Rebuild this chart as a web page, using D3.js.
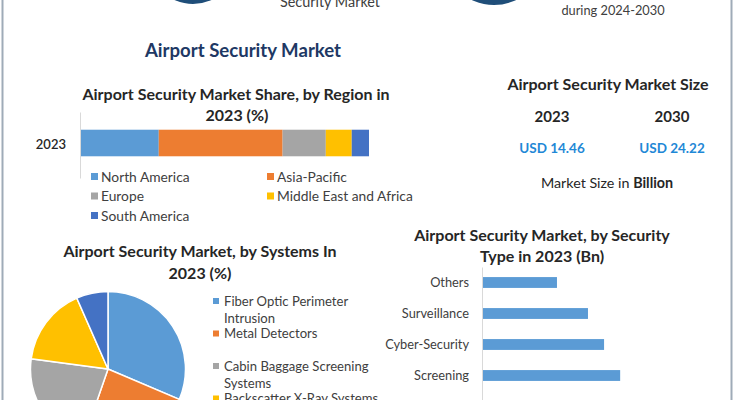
<!DOCTYPE html>
<html>
<head>
<meta charset="utf-8">
<script src="https://cdn.jsdelivr.net/npm/d3@7"></script>
<style>
  body { margin: 0; background: #fff; }
  svg { display: block; font-family: Lato, "Open Sans", sans-serif; }
</style>
</head>
<body>
<div id="container"></div>
<script>
/* DATA */
const regionYear = ["2023"];
const regions = ["North America", "Asia-Pacific", "Europe", "Middle East and Africa", "South America"];
const regionShare = [27, 43, 15, 9, 6];

const sizeYears = ["2023", "2030"];
const sizeValues = ["USD 14.46", "USD 24.22"];

const systems = ["Fiber Optic Perimeter Intrusion", "Metal Detectors", "Cabin Baggage Screening Systems", "Backscatter X-Ray Systems", "Others"];
const systemShare = [31.4, 23.9, 21.8, 16.3, 6.6];

const securityTypes = ["Others", "Surveillance", "Cyber-Security", "Screening", "Access Control"];
const securityValues = [1.91, 2.70, 3.11, 3.52, 3.21];

const palette = ["#5B9BD5", "#ED7D31", "#A5A5A5", "#FFC000", "#4472C4"];

/* SVG */
const width = 735, height = 400;
const svg = d3.select("#container").append("svg")
  .attr("width", width)
  .attr("height", height);

// frame lines left / right
svg.append("line").attr("x1", 2.5).attr("x2", 2.5).attr("y1", 0).attr("y2", height)
  .attr("stroke", "#9fabb8").attr("stroke-width", 2);
svg.append("line").attr("x1", 731.5).attr("x2", 731.5).attr("y1", 0).attr("y2", height)
  .attr("stroke", "#9fabb8").attr("stroke-width", 2);

// header decoration (cut off at top)
svg.append("circle").attr("cx", 193).attr("cy", -41).attr("r", 45).attr("fill", "#1f4e79");
svg.append("circle").attr("cx", 494).attr("cy", -47).attr("r", 52).attr("fill", "#1f4e79");
svg.append("text").attr("x", 330).attr("y", 7).attr("text-anchor", "middle")
  .attr("font-size", 14.4).attr("fill", "#404040").text("Security Market");
svg.append("text").attr("x", 613).attr("y", 15).attr("text-anchor", "middle")
  .attr("font-size", 12.8).attr("fill", "#404040").text("during 2024-2030");

svg.append("text").attr("x", 243).attr("y", 57).attr("text-anchor", "middle")
  .attr("font-size", 18.6).attr("font-weight", 700).attr("fill", "#203864")
  .text("Airport Security Market");

/* REGION STACKED BAR */
const g1 = svg.append("g");
g1.append("text").attr("x", 236).attr("y", 99.5).attr("text-anchor", "middle")
  .attr("font-size", 16).attr("font-weight", 700).attr("fill", "#262626")
  .text("Airport Security Market Share, by Region in");
g1.append("text").attr("x", 237).attr("y", 120.5).attr("text-anchor", "middle")
  .attr("font-size", 16).attr("font-weight", 700).attr("fill", "#262626")
  .text("2023 (%)");

const xReg = d3.scaleLinear().domain([0, 100]).range([81, 369]);
const yReg = d3.scaleBand().domain(regionYear).range([112, 174]).padding(0.4);

let acc = 0;
const stacked = regionShare.map((v, i) => { const s = { name: regions[i], x0: acc, x1: acc + v, i }; acc += v; return s; });

g1.selectAll("rect.seg").data(stacked).join("rect")
  .attr("class", "seg")
  .attr("x", d => xReg(d.x0))
  .attr("width", d => xReg(d.x1) - xReg(d.x0))
  .attr("y", yReg("2023"))
  .attr("height", yReg.bandwidth())
  .attr("fill", d => palette[d.i]);

const yAxisReg = g1.append("g")
  .attr("transform", "translate(80,0)")
  .call(d3.axisLeft(d3.scaleBand().domain(regionYear).range([112, 178])).tickSize(0).tickPadding(14));
yAxisReg.select(".domain").attr("stroke", "#d9d9d9");
yAxisReg.selectAll("text").attr("font-size", 13).attr("font-weight", 600).attr("fill", "#262626")
  .attr("font-family", "Lato, sans-serif");

const leg1 = g1.selectAll("g.leg").data(regions).join("g")
  .attr("class", "leg")
  .attr("transform", (d, i) => `translate(${i % 2 ? 267 : 91},${177 + Math.floor(i / 2) * 19.5})`);
leg1.append("rect").attr("x", 0).attr("y", -4).attr("width", 7).attr("height", 7)
  .attr("fill", (d, i) => palette[i]);
leg1.append("text").attr("x", 10).attr("y", 0).attr("dy", "0.35em")
  .attr("font-size", 13.8).attr("fill", "#404040").text(d => d);

/* MARKET SIZE */
const g2 = svg.append("g");
g2.append("text").attr("x", 608).attr("y", 89.5).attr("text-anchor", "middle")
  .attr("font-size", 16).attr("font-weight", 700).attr("fill", "#262626")
  .text("Airport Security Market Size");
const xSize = d3.scalePoint().domain(sizeYears).range([552, 672]);
g2.selectAll("text.yr").data(sizeYears).join("text").attr("class", "yr")
  .attr("x", d => xSize(d)).attr("y", 122).attr("text-anchor", "middle")
  .attr("font-size", 15).attr("font-weight", 700).attr("fill", "#262626").text(d => d);
g2.selectAll("text.val").data(sizeValues).join("text").attr("class", "val")
  .attr("x", (d, i) => xSize(sizeYears[i])).attr("y", 153).attr("text-anchor", "middle")
  .attr("font-size", 13.5).attr("font-weight", 700).attr("fill", "#1f88d6").text(d => d);
const ms = g2.append("text").attr("x", 607).attr("y", 188).attr("text-anchor", "middle")
  .attr("font-size", 14.3).attr("fill", "#262626");
ms.append("tspan").text("Market Size in ");
ms.append("tspan").attr("font-weight", 700).text("Billion");

/* SYSTEMS PIE */
const g3 = svg.append("g");
g3.append("text").attr("x", 200).attr("y", 256.5).attr("text-anchor", "middle")
  .attr("font-size", 16).attr("font-weight", 700).attr("fill", "#262626")
  .text("Airport Security Market, by Systems In");
g3.append("text").attr("x", 200).attr("y", 278.5).attr("text-anchor", "middle")
  .attr("font-size", 16).attr("font-weight", 700).attr("fill", "#262626")
  .text("2023 (%)");

const pie = d3.pie().sort(null).value(d => d);
const arc = d3.arc().innerRadius(0).outerRadius(77.5);
g3.append("g").attr("transform", "translate(108,369)")
  .selectAll("path").data(pie(systemShare)).join("path")
  .attr("d", arc)
  .attr("fill", (d, i) => palette[i])
  .attr("stroke", "#fff").attr("stroke-width", 1.5);

const wrapLines = ["Fiber Optic Perimeter|Intrusion", "Metal Detectors", "Cabin Baggage Screening|Systems", "Backscatter X-Ray Systems", "Others"];
const leg3 = g3.selectAll("g.leg").data(systems).join("g")
  .attr("class", "leg")
  .attr("transform", (d, i) => `translate(213,${301 + i * 32.5})`);
leg3.append("rect").attr("x", 0).attr("y", -3).attr("width", 6).attr("height", 6)
  .attr("fill", (d, i) => palette[i]);
leg3.each(function(d, i) {
  const t = d3.select(this).append("text").attr("x", 11).attr("y", 0)
    .attr("font-size", 13.1).attr("fill", "#404040");
  wrapLines[i].split("|").forEach((s, k) => {
    t.append("tspan").attr("x", 11).attr("dy", k ? 17 : "0.35em").text(s);
  });
});

/* SECURITY TYPE BARS */
const g4 = svg.append("g");
g4.append("text").attr("x", 542).attr("y", 240.5).attr("text-anchor", "middle")
  .attr("font-size", 16).attr("font-weight", 700).attr("fill", "#262626")
  .text("Airport Security Market, by Security");
g4.append("text").attr("x", 542).attr("y", 261.5).attr("text-anchor", "middle")
  .attr("font-size", 16).attr("font-weight", 700).attr("fill", "#262626")
  .text("Type in 2023 (Bn)");

const xSec = d3.scaleLinear().domain([0, 4]).range([482, 639]);
const ySec = d3.scaleBand().domain(securityTypes).range([267, 422])
  .paddingInner(0.65).paddingOuter(0.325);

g4.selectAll("rect.bar").data(securityValues).join("rect").attr("class", "bar")
  .attr("x", xSec(0))
  .attr("y", (d, i) => ySec(securityTypes[i]))
  .attr("width", d => xSec(d) - xSec(0))
  .attr("height", ySec.bandwidth())
  .attr("fill", "#5B9BD5");

const yAxisSec = g4.append("g").attr("transform", `translate(${xSec(0)},0)`)
  .call(d3.axisLeft(ySec).tickSize(0).tickPadding(13));
yAxisSec.select(".domain").attr("stroke", "#d9d9d9");
yAxisSec.selectAll("text").attr("font-size", 12.8).attr("fill", "#404040")
  .attr("font-family", "Lato, sans-serif");
</script>
</body>
</html>
